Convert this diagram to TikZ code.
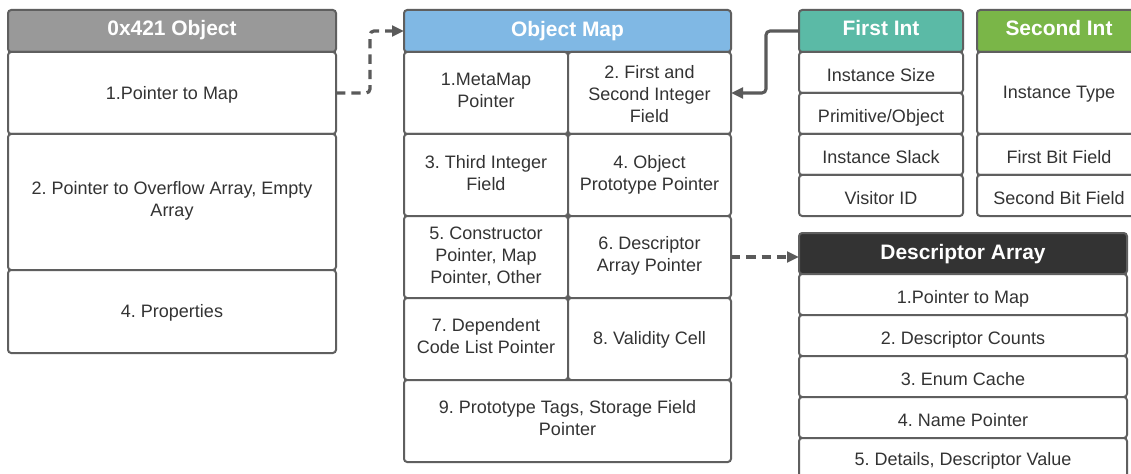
\documentclass[tikz,border=0pt]{standalone}
\usepackage{fontspec}
\setmainfont{Liberation Sans}
\usetikzlibrary{arrows.meta}
\frenchspacing
\definecolor{edge}{HTML}{5F5F5F}
\definecolor{ink}{HTML}{333333}
\definecolor{hdgray}{HTML}{999999}
\definecolor{hdblue}{HTML}{80B8E4}
\definecolor{hdteal}{HTML}{5BBAA6}
\definecolor{hdgreen}{HTML}{7AB648}
\definecolor{hddark}{HTML}{333333}
\definecolor{link}{HTML}{5A5A5A}
\tikzset{
  cellbox/.style={draw=edge, line width=1.5pt, rounded corners=2.4pt, fill=white,
    inner sep=0pt, outer sep=0pt},
  celltext/.style={inner sep=0pt, text=ink, font=\fontsize{13.5}{16.5}\selectfont},
  headtext/.style={inner sep=0pt, text=white, font=\bfseries\fontsize{15.7}{18}\selectfont},
  link/.style={draw=link, line width=2.3pt, rounded corners=3pt,
    -{Triangle[length=9pt,width=8pt]}},
  dashlink/.style={link, line width=2.4pt, dash pattern=on 7pt off 4.5pt},
}
% [extra downward shift of the text, px] box style, name, x1, y1, x2, y2, text
% (pixel units, y downwards); the text sits in a strut-lined tabular
\newcommand\mkcell[8][0]{%
  \node[cellbox, #2, minimum width={(#6-#4)*0.75pt}, minimum height={(#7-#5)*0.75pt}]
    (#3) at ({(#4+#6)/2},{(#5+#7)/2}) {};
  \node[celltext] (#3-t) at ([yshift={-(#1)*0.75pt-1.53pt}]#3.center)
    {\begin{tabular}{@{}c@{}}#8\end{tabular}};}
% [extra downward shift, px] fill colour, name, x1, y1, x2, y2, title
\newcommand\mkhead[8][0]{%
  \node[cellbox, fill=#2, minimum width={(#6-#4)*0.75pt}, minimum height={(#7-#5)*0.75pt}]
    (#3) at ({(#4+#6)/2},{(#5+#7)/2}) {};
  \node[headtext] (#3-t) at ([yshift={-(#1)*0.75pt-2pt}]#3.center)
    {\begin{tabular}{@{}c@{}}#8\end{tabular}};}
\begin{document}
\begin{tikzpicture}[x=0.75pt, y=-0.75pt]
\useasboundingbox[fill=white] (0,0) rectangle (1131,474);

% object layout
\mkhead[-3]{hdgray}{oh}{8}{10}{336}{52}{0x421 Object}
\mkcell{}{o1}{8}{52}{336}{134}{1.Pointer to Map}
\mkcell[-2.5]{}{o2}{8}{134}{336}{270}{2. Pointer to Overflow Array, Empty\\Array}
\mkcell{}{o4}{8}{270}{336}{353}{4. Properties}

% map layout
\mkhead[-2]{hdblue}{mh}{404}{10}{731}{52}{Object Map}
\mkcell[-3]{}{m1}{404}{52}{568}{134}{1.MetaMap\\Pointer}
\mkcell[1]{}{m2}{568}{52}{731}{134}{2. First and\\Second Integer\\Field}
\mkcell[-2]{}{m3}{404}{134}{568}{216}{3. Third Integer\\Field}
\mkcell[-2]{}{m4}{568}{134}{731}{216}{4. Object\\Prototype Pointer}
\mkcell[-2]{}{m5}{404}{216}{568}{298}{5. Constructor\\Pointer, Map\\Pointer, Other}
\mkcell[-3]{}{m6}{568}{216}{731}{298}{6. Descriptor\\Array Pointer}
\mkcell[-3]{}{m7}{404}{298}{568}{380}{7. Dependent\\Code List Pointer}
\mkcell[-1]{}{m8}{568}{298}{731}{380}{8. Validity Cell}
\mkcell[-2.5]{}{m9}{404}{380}{731}{462}{9. Prototype Tags, Storage Field\\Pointer}

% first integer field
\mkhead[-3]{hdteal}{fh}{799}{10}{963}{52}{First Int}
\mkcell[2.5]{}{f1}{799}{52}{963}{93}{Instance Size}
\mkcell[2.5]{}{f2}{799}{93}{963}{134}{Primitive/Object}
\mkcell[2.5]{}{f3}{799}{134}{963}{175}{Instance Slack}
\mkcell[2.5]{}{f4}{799}{175}{963}{216}{Visitor ID}

% second integer field
\mkhead[-3]{hdgreen}{sh}{977}{10}{1141}{52}{Second Int}
\mkcell[-1]{}{s1}{977}{52}{1141}{134}{Instance Type}
\mkcell[2.5]{}{s2}{977}{134}{1141}{175}{First Bit Field}
\mkcell[2.5]{}{s3}{977}{175}{1141}{216}{Second Bit Field}

% descriptor array
\mkhead[-1.5]{hddark}{dh}{799}{233}{1127}{274}{Descriptor Array}
\mkcell[3]{}{d1}{799}{274}{1127}{315}{1.Pointer to Map}
\mkcell[3]{}{d2}{799}{315}{1127}{356}{2. Descriptor Counts}
\mkcell[3]{}{d3}{799}{356}{1127}{397}{3. Enum Cache}
\mkcell[3]{}{d4}{799}{397}{1127}{438}{4. Name Pointer}
\mkcell[1]{}{d5}{799}{438}{1127}{479}{5. Details, Descriptor Value}

% connectors
\draw[dashlink] (o1.east) -- ++(34,0) |- (mh.west);
\draw[link] (fh.west) -- ++(-33,0) |- (m2.east);
\draw[dashlink, rounded corners=0pt] (m6.east) -- (m6.east -| dh.west);
\end{tikzpicture}
\end{document}
